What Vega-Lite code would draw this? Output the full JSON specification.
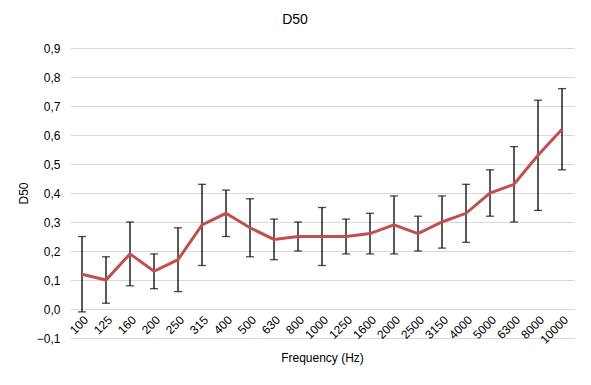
{
  "$schema": "https://vega.github.io/schema/vega-lite/v6.json",
  "autosize": {"type": "none"},
  "width": 504,
  "height": 290,
  "padding": {"left": 70, "top": 48, "right": 17, "bottom": 47},
  "background": "white",
  "title": {"text": "D50", "fontSize": 14, "font": "Liberation Sans", "fontWeight": "normal", "color": "#000000", "dx": -27, "offset": 15},
  "config": {
    "view": {"stroke": null},
    "font": "Liberation Sans"
  },
  "data": {
    "values": [
      {"f": "100", "v": 0.12, "hi": 0.25, "lo": -0.01},
      {"f": "125", "v": 0.10, "hi": 0.18, "lo": 0.02},
      {"f": "160", "v": 0.19, "hi": 0.30, "lo": 0.08},
      {"f": "200", "v": 0.13, "hi": 0.19, "lo": 0.07},
      {"f": "250", "v": 0.17, "hi": 0.28, "lo": 0.06},
      {"f": "315", "v": 0.29, "hi": 0.43, "lo": 0.15},
      {"f": "400", "v": 0.33, "hi": 0.41, "lo": 0.25},
      {"f": "500", "v": 0.28, "hi": 0.38, "lo": 0.18},
      {"f": "630", "v": 0.24, "hi": 0.31, "lo": 0.17},
      {"f": "800", "v": 0.25, "hi": 0.30, "lo": 0.20},
      {"f": "1000", "v": 0.25, "hi": 0.35, "lo": 0.15},
      {"f": "1250", "v": 0.25, "hi": 0.31, "lo": 0.19},
      {"f": "1600", "v": 0.26, "hi": 0.33, "lo": 0.19},
      {"f": "2000", "v": 0.29, "hi": 0.39, "lo": 0.19},
      {"f": "2500", "v": 0.26, "hi": 0.32, "lo": 0.20},
      {"f": "3150", "v": 0.30, "hi": 0.39, "lo": 0.21},
      {"f": "4000", "v": 0.33, "hi": 0.43, "lo": 0.23},
      {"f": "5000", "v": 0.40, "hi": 0.48, "lo": 0.32},
      {"f": "6300", "v": 0.43, "hi": 0.56, "lo": 0.30},
      {"f": "8000", "v": 0.53, "hi": 0.72, "lo": 0.34},
      {"f": "10000", "v": 0.62, "hi": 0.76, "lo": 0.48}
    ]
  },
  "encoding": {
    "x": {
      "field": "f", "type": "ordinal", "sort": null,
      "scale": {"type": "point", "padding": 0.5},
      "axis": {
        "title": "Frequency (Hz)", "titleFontSize": 12, "titleFontWeight": "normal", "titleColor": "#000000", "titlePadding": 7,
        "labelAngle": -45, "labelFontSize": 12, "labelColor": "#000000", "labelPadding": 5,
        "domain": false, "ticks": false, "grid": false, "offset": -29
      }
    }
  },
  "layer": [
    {
      "mark": {"type": "rule", "color": "#000000", "strokeWidth": 1.3},
      "encoding": {
        "y": {"field": "lo", "type": "quantitative",
          "scale": {"domain": [-0.1, 0.9], "nice": false, "zero": false},
          "axis": {
            "title": "D50", "titleFontSize": 12, "titleFontWeight": "normal", "titleColor": "#000000", "titlePadding": 6,
            "values": [-0.1, 0, 0.1, 0.2, 0.3, 0.4, 0.5, 0.6, 0.7, 0.8, 0.9],
            "tickCount": 11,
            "labelOverlap": false,
            "labelExpr": "replace(format(datum.value, '.1f'), '.', ',')",
            "labelFontSize": 12, "labelColor": "#000000", "labelPadding": 10,
            "domain": false, "ticks": false, "grid": true, "gridColor": "#d9d9d9", "gridWidth": 1.2
          }
        },
        "y2": {"field": "hi"}
      }
    },
    {
      "mark": {"type": "tick", "color": "#000000", "size": 8, "thickness": 1.3, "orient": "horizontal"},
      "encoding": {"y": {"field": "hi", "type": "quantitative"}}
    },
    {
      "mark": {"type": "tick", "color": "#000000", "size": 8, "thickness": 1.3, "orient": "horizontal"},
      "encoding": {"y": {"field": "lo", "type": "quantitative"}}
    },
    {
      "mark": {"type": "line", "color": "#c0504d", "strokeWidth": 3},
      "encoding": {"y": {"field": "v", "type": "quantitative"}}
    }
  ]
}
